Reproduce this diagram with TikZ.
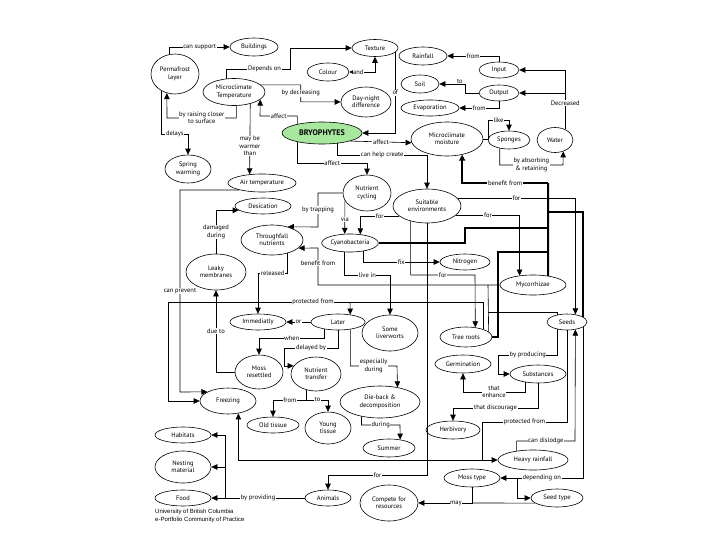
\documentclass[tikz,border=0pt]{standalone}
\usepackage{fontspec}
\setmainfont{PT Sans}
\newfontfamily\creditfont{Liberation Sans}
\usetikzlibrary{arrows.meta,shapes.geometric}
\newcommand\mapfont{\fontsize{6.5}{7.4}\selectfont}
\definecolor{bryogreen}{RGB}{168,232,158}
\tikzset{
  concept/.style={draw=black, ellipse, fill=white, inner sep=0.5pt, align=center,
    line width=0.6pt, font=\mapfont},
  link/.style={line width=0.6pt},
  arr/.style={link, -{Triangle[length=6pt,width=5.5pt]}},
  arrboth/.style={link, {Triangle[length=6pt,width=5.5pt]}-{Triangle[length=6pt,width=5.5pt]}},
  heavy/.style={line width=2pt},
  heavyarr/.style={heavy, -{Triangle[length=6pt,width=6pt]}},
  lbl/.style={fill=white, inner sep=0.6pt, align=center, font=\mapfont}
}

\begin{document}
\begin{tikzpicture}[x=1pt,y=-1pt]
  \useasboundingbox (0,0) rectangle (728,546);

  % concepts
  \node[concept, minimum width=48, minimum height=40] (perma) at (175,74) {Permafrost\\layer};
  \node[concept, minimum width=48, minimum height=18] (build) at (254,47) {Buildings};
  \node[concept, minimum width=62, minimum height=27] (mtemp) at (234,92) {Microclimate\\Temperature};
  \node[concept, minimum width=46, minimum height=17] (texture) at (375,48) {Texture};
  \node[concept, minimum width=42, minimum height=18] (colour) at (328,72) {Colour};
  \node[concept, minimum width=50, minimum height=30] (daynight) at (366,102) {Day-night\\difference};
  \node[concept, minimum width=48, minimum height=18] (rain) at (423,56) {Rainfall};
  \node[concept, minimum width=38, minimum height=18] (soil) at (420,84) {Soil};
  \node[concept, minimum width=40, minimum height=16] (input) at (499,70) {Input};
  \node[concept, minimum width=40, minimum height=16] (output) at (499,93) {Output};
  \node[concept, minimum width=58, minimum height=16] (evap) at (430,108) {Evaporation};
  \node[concept, fill=bryogreen, font=\fontsize{8}{9}\selectfont\bfseries,
    minimum width=80, minimum height=22] (bryo) at (322,133) {BRYOPHYTES};
  \node[concept, minimum width=72, minimum height=34] (mmoist) at (447,139) {Microclimate\\moisture};
  \node[concept, minimum width=42, minimum height=18] (sponges) at (509,140) {Sponges};
  \node[concept, minimum width=36, minimum height=25] (water) at (555,140) {Water};
  \node[concept, minimum width=46, minimum height=28] (spring) at (188,169) {Spring\\warming};
  \node[concept, minimum width=68, minimum height=18] (airtemp) at (262,183) {Air temperature};
  \node[concept, minimum width=48, minimum height=36] (ncycle) at (367,193) {Nutrient\\cycling};
  \node[concept, minimum width=68, minimum height=34] (suitenv) at (427,206) {Suitable\\environments};
  \node[concept, minimum width=56, minimum height=16] (desic) at (263,206) {Desication};
  \node[concept, minimum width=62, minimum height=30] (thrufall) at (272,240) {Throughfall\\nutrients};
  \node[concept, minimum width=50, minimum height=18] (cyano) at (350,243) {Cyanobacteria};
  \node[concept, minimum width=50, minimum height=16] (nitrogen) at (465,262) {Nitrogen};
  \node[concept, minimum width=60, minimum height=36] (leaky) at (216,272) {Leaky\\membranes};
  \node[concept, minimum width=66, minimum height=20] (mycorr) at (533,285) {Mycorrhizae};
  \node[concept, minimum width=56, minimum height=16] (immed) at (258,322) {Immediatly};
  \node[concept, minimum width=54, minimum height=16] (later) at (338,322) {Later};
  \node[concept, minimum width=56, minimum height=36] (liver) at (390,333) {Some\\liverworts};
  \node[concept, minimum width=52, minimum height=20] (treeroots) at (466,337) {Tree roots};
  \node[concept, minimum width=40, minimum height=16] (seeds) at (567,322) {Seeds};
  \node[concept, minimum width=56, minimum height=18] (germ) at (463,364) {Germination};
  \node[concept, minimum width=56, minimum height=18] (subst) at (538,374) {Substances};
  \node[concept, minimum width=48, minimum height=34] (mossres) at (259,372) {Moss\\resettled};
  \node[concept, minimum width=50, minimum height=34] (ntransfer) at (316,374) {Nutrient\\transfer};
  \node[concept, minimum width=80, minimum height=32] (dieback) at (380,402) {Die-back \&\\decomposition};
  \node[concept, minimum width=56, minimum height=26] (freezing) at (228,401) {Freezing};
  \node[concept, minimum width=52, minimum height=16] (oldtissue) at (273,425) {Old tissue};
  \node[concept, minimum width=46, minimum height=32] (youngtissue) at (328,428) {Young\\tissue};
  \node[concept, minimum width=54, minimum height=18] (herbiv) at (453,430) {Herbivory};
  \node[concept, minimum width=52, minimum height=18] (summer) at (389,448) {Summer};
  \node[concept, minimum width=70, minimum height=20] (heavyrain) at (533,460) {Heavy rainfall};
  \foreach \n/\y/\h/\txt in {habitats/435/16/Habitats, nesting/467/32/{Nesting\\material}, food/498/16/Food}
    \node[concept, minimum width=56, minimum height=\h] (\n) at (183,\y) {\txt};
  \node[concept, minimum width=46, minimum height=16] (animals) at (328,498) {Animals};
  \node[concept, minimum width=58, minimum height=36] (compete) at (389,503) {Compete for\\resources};
  \node[concept, minimum width=56, minimum height=18] (mosstype) at (472,478) {Moss type};
  \node[concept, minimum width=52, minimum height=18] (seedtype) at (557,498) {Seed type};

  \node[anchor=north west, align=left, inner sep=0pt, font=\creditfont\fontsize{6}{7.6}\selectfont]
    (credit) at (155,509) {University of British Columbia\\e-Portfolio Community of Practice};

  % branch points
  \coordinate (decbr) at (565,93);
  \coordinate (bfA) at (548,183);
  \coordinate (bfB) at (548,212);
  \coordinate (bfC) at (548,228);
  \coordinate (bfD) at (548,252);
  \coordinate (thbr) at (488,285);
  \coordinate (pfbr) at (350,302);
  \coordinate (ntbr) at (307,400);
  \coordinate (pfrz) at (482,460);
  \coordinate (depbr) at (517,478);
  \coordinate (maybr) at (472,503);
  \coordinate (provbr) at (225,498);

  % upper left
  \draw[arr] (perma.105) |- node[lbl,pos=.75]{can support} (build);
  \draw[arr] (mtemp.120) |- node[lbl,pos=.8]{Depends on} (290,69) |- (texture);
  \draw[arrboth] (colour) -- node[lbl,pos=.35]{and} (375,72) -- (texture);
  \draw[arr] (mtemp.15) -- ++(40,0) -- node[lbl]{by decreasing} ++(0,17) -- (daynight);
  \draw[arr] (bryo.160) |- node[lbl,pos=.75]{affect} (260,116) -- (mtemp.-16);
  \draw[arr] (mtemp.-36) -- node[lbl,pos=.6]{may be\\warmer\\than} (airtemp.145);
  \draw[arr] (mtemp.-80) |- node[lbl,pos=.75]{by raising closer\\to surface} (167,118) -- (perma.247);
  \draw[arr] (perma.232) |- node[lbl,pos=.75]{delays} (188,134) -- (spring);
  \draw[arr] (texture.-12) |- node[lbl,pos=.25]{of} (bryo);

  % water
  \draw[arr] (input) |- node[lbl,pos=.75]{from} (rain);
  \draw[arr] (output) -- (465,93) |- node[lbl,pos=.6,above]{to} (soil);
  \draw[arr] (output) |- node[lbl,pos=.75]{from} (evap);
  \draw[arr] (water.46) |- node[lbl,pos=.22]{Decreased} (input);
  \draw[arr] (decbr) -- (output);
  \draw[arr] (mmoist) -- (488,139) |- node[lbl,pos=.75]{like} (509,120) -- (sponges);
  \draw[arr] (sponges.222) |- node[lbl,pos=.75]{by absorbing\\\& retaining} (563,165) -- (water.-54);

  % bryophytes
  \draw[arr] (bryo.-16) -- node[lbl]{affect} (mmoist.186);
  \draw[arr] (bryo.-34) |- node[lbl,pos=.75]{can help create} (427,155) -- (suitenv);
  \draw[arr] (bryo.200) |- node[lbl,pos=.75]{affect} (367,163) -- (ncycle);
  \draw[arr] (airtemp.197) -| node[lbl,pos=.75]{can prevent} (180,392) -- (freezing.156);

  % nutrient cycling, suitable environments
  \draw[arr] (ncycle) -| node[lbl,pos=.75]{by trapping} (318,227) -- (thrufall.40);
  \draw[arr] (ncycle.199) -- node[lbl,pos=.55]{via} (cyano.120);
  \draw[arr] (suitenv.200) -| node[lbl,pos=.25]{for} (cyano.40);
  \draw[arr] (suitenv.223) |- node[lbl,pos=.75]{for} (475,275) -- (treeroots.46);
  \draw[arr] (suitenv) |- node[lbl,pos=.75]{for} (328,475) -- (animals);
  \draw[arr] (suitenv.15) -| node[lbl,pos=.25]{for} (seeds.42);
  \draw[arr] (suitenv.-17) -| node[lbl,pos=.25]{for} (mycorr.145);
  \draw[arr] (cyano.-33) |- node[lbl,pos=.75]{fix} (nitrogen);
  \draw[arr] (cyano.-120) |- node[lbl,pos=.75]{live in} (390,275) -- (liver);

  % benefit from
  \draw[heavyarr] (bfA) -| node[lbl,pos=.25]{benefit from} (mmoist.-46);
  \draw[heavy] (mycorr.31) -- (bfA);
  \draw[heavy] (seeds.17) |- (bfB);
  \draw[heavy] (cyano) -| (465,228) -- (bfC);
  \draw[heavy] (treeroots) -| (498,252) -- (bfD);
  \draw[arr] (mycorr) -| node[lbl,pos=.8]{benefit from} (318,248) -- (thrufall.-17);
  \draw[link] (treeroots.13) -- (thbr);
  \draw[link] (seeds.142) |- (488,312);

  % throughfall, later
  \draw[arr] (treeroots.24) |- node[lbl,pos=.77]{protected from} (168,302) |- (freezing);
  \draw[arr] (pfbr) -- (later.31);
  \draw[arr] (thrufall.-41) |- node[lbl,pos=.75]{released} (258,273) -- (immed);
  \draw[arr] (later) -- node[lbl]{or} (immed);
  \draw[arr] (later.208) |- node[lbl,pos=.75]{when} (259,338) -- (mossres);
  \draw[arr] (later) |- node[lbl,pos=.75]{delayed by} (284,348) |- (ntransfer.160);
  \draw[arr] (later.-31) |- node[lbl,pos=.75]{especially\\during} (397,366) -- (dieback.40);
  \draw[arr] (dieback.218) |- node[lbl,pos=.75]{during} (400,425) -- (summer.37);
  \draw[arr] (ntransfer.240) |- node[lbl,pos=.75]{from} (273,400) -- (oldtissue);
  \draw[arr] (ntbr) -| node[lbl,pos=.25]{to} (youngtissue);
  \draw[arr] (mossres) -| node[lbl,pos=.75]{due to} (leaky);
  \draw[arr] (leaky) |- node[lbl,pos=.25]{damaged\\during} (desic.190);

  % seeds
  \draw[arr] (seeds.-142) |- node[lbl,pos=.75]{by producing} (498,355) |- (subst);
  \draw[arr] (seeds) |- node[lbl,pos=.75]{protected from} (482,422) |- (heavyrain);
  \draw[arr] (pfrz) -| (freezing.-50);
  \draw[arr] (heavyrain.151) |- node[lbl,pos=.75]{can dislodge} (575,441) -- (seeds.-42);
  \draw[arr] (seeds.-17) |- node[lbl,pos=.75]{depending on} (mosstype);
  \draw[arr] (depbr) |- (seedtype);
  \draw[arr] (mosstype) |- node[lbl,pos=.65]{may} (compete);
  \draw[link] (seedtype.193) -- (maybr);
  \draw[arr] (subst.212) |- node[lbl,pos=.75]{that\\enhance} (463,392) -- (germ);
  \draw[arr] (subst) |- node[lbl,pos=.75]{that discourage} (453,408) -- (herbiv);

  % animals
  \draw[arr] (animals) -- node[lbl]{by providing} (food);
  \draw[arr] (provbr) |- (nesting);
  \draw[arr] (provbr) |- (habitats);
\end{tikzpicture}
\end{document}
